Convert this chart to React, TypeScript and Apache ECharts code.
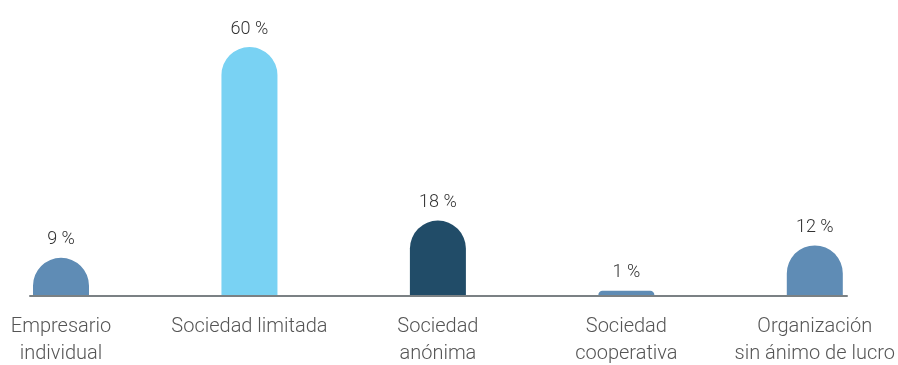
import React, { useEffect, useRef } from "react";
import * as echarts from "echarts";

const categories = [
  "Empresario\nindividual",
  "Sociedad limitada",
  "Sociedad\nanónima",
  "Sociedad\ncooperativa",
  "Organización\nsin ánimo de lucro",
];
const values = [9, 60, 18, 1, 12];
const barColors = ["#5f8cb5", "#79d2f3", "#214c68", "#5f8cb5", "#5f8cb5"];

export default function App() {
  const ref = useRef<HTMLDivElement>(null);
  useEffect(() => {
    if (!ref.current) return;
    const chart = echarts.init(ref.current, undefined, { renderer: "svg" });
    const font = "Roboto, sans-serif";
    chart.setOption({
      animation: false,
      grid: [
        { left: 61, right: 82, top: 47, bottom: 69.5 },
        { left: 30, right: 51, top: 47, bottom: 69.5 },
      ],
      xAxis: [
        {
          type: "category",
          gridIndex: 0,
          data: categories,
          boundaryGap: false,
          axisLine: { show: false },
          axisTick: { show: false },
          axisLabel: {
            interval: 0,
            margin: 16,
            color: "#555",
            fontSize: 20,
            fontWeight: 300,
            lineHeight: 27,
            fontFamily: font,
          },
        },
        {
          type: "value",
          gridIndex: 1,
          min: 0,
          max: 1,
          axisLine: { show: true, lineStyle: { color: "#7b8184", width: 2 } },
          axisTick: { show: false },
          axisLabel: { show: false },
          splitLine: { show: false },
        },
      ],
      yAxis: [
        { type: "value", gridIndex: 0, min: 0, max: 60, show: false },
        { type: "value", gridIndex: 1, min: 0, max: 60, show: false },
      ],
      series: [
        {
          type: "bar",
          xAxisIndex: 0,
          yAxisIndex: 0,
          barWidth: 56,
          data: values.map((v, i) => ({
            value: v,
            itemStyle: { color: barColors[i], borderRadius: [28, 28, 0, 0] },
          })),
          label: {
            show: true,
            position: "top",
            distance: 11,
            color: "#333",
            fontSize: 18,
            fontWeight: 300,
            fontFamily: font,
            formatter: (p: any) => `${p.value} %`,
          },
        },
      ],
    });
    return () => chart.dispose();
  }, []);
  return (
    <div
      ref={ref}
      style={{ position: "fixed", left: 0, top: 0, width: 898, height: 365 }}
    />
  );
}
